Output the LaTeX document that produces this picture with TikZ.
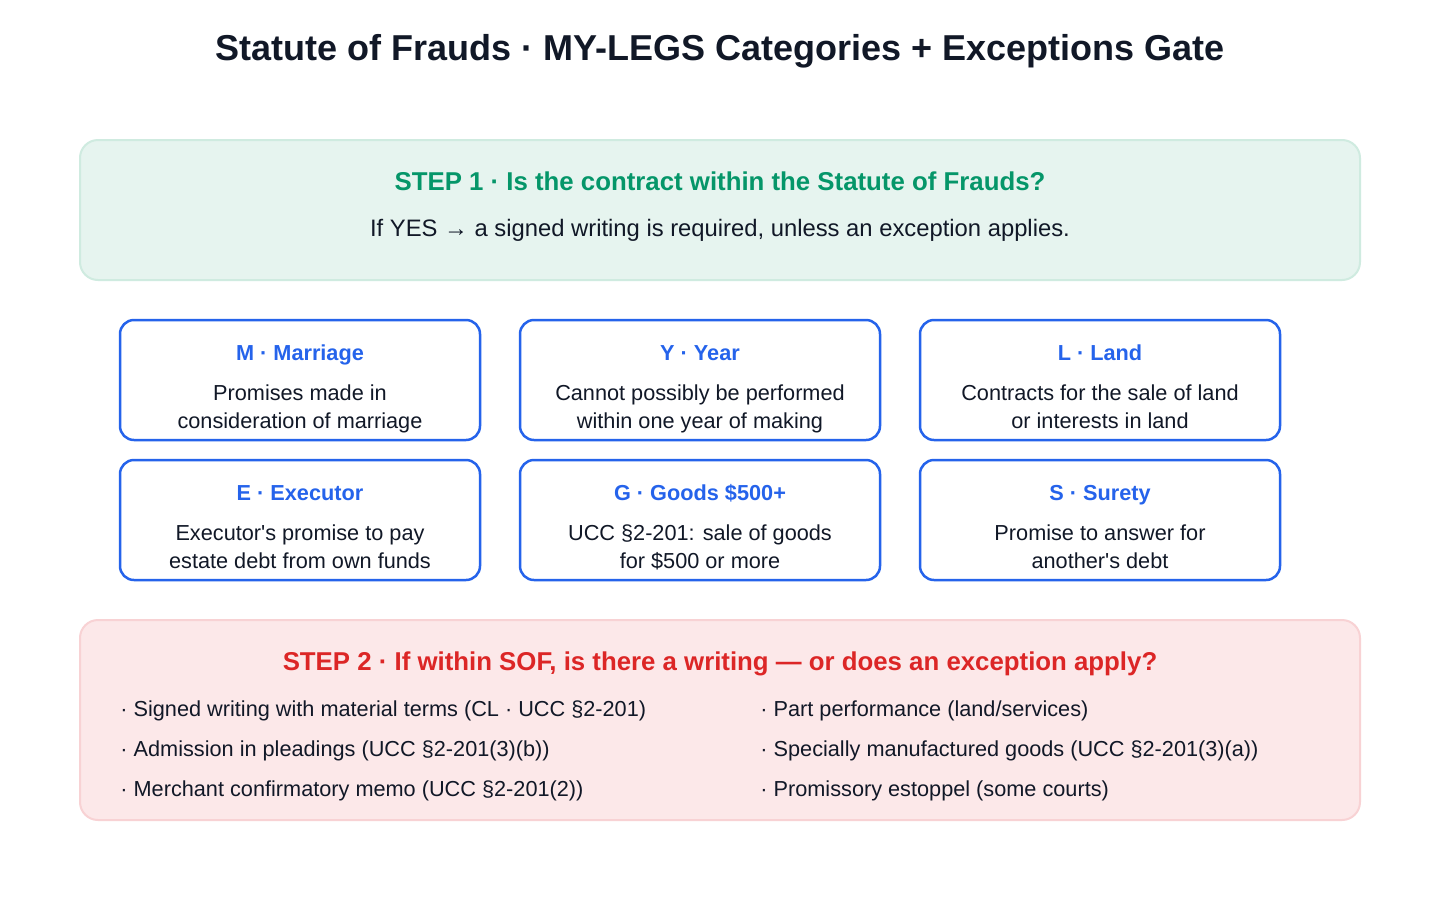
\documentclass[tikz,border=0pt]{standalone}
\usepackage{fontspec}
\setmainfont{Liberation Sans}
\usepackage{tikz}
\definecolor{ink}{HTML}{111827}
\definecolor{stepgreen}{HTML}{059669}
\definecolor{greenfill}{HTML}{E6F4EF}
\definecolor{greenline}{HTML}{CFEBE0}
\definecolor{catblue}{HTML}{2563EB}
\definecolor{stepred}{HTML}{DC2626}
\definecolor{redfill}{HTML}{FCE8E9}
\definecolor{redline}{HTML}{F8D2D4}
% one category box: name, center x, top y, title, line 1, line 2
\newcommand{\catbox}[6]{%
  \node[catframe] (#1) at (#2,#3+60) {};
  \node[cattitle] (#1-title) at (#2,#3+40) {#4};
  \node[catbody] (#1-one) at (#2,#3+80) {#5};
  \node[catbody] (#1-two) at (#2,#3+108) {#6};
}

\begin{document}
\begin{tikzpicture}[x=0.5pt, y=-0.5pt,
    catframe/.style={draw=catblue, line width=1.25pt, fill=white, rounded corners=7pt,
      minimum width=180pt, minimum height=60pt, inner sep=0pt},
    cattitle/.style={anchor=base, text=catblue, font=\fontsize{10.85}{13}\selectfont\bfseries},
    catbody/.style={anchor=base, text=ink, font=\fontsize{10.85}{13}\selectfont},
    bullet/.style={anchor=base west, text=ink, font=\fontsize{10.85}{13}\selectfont, inner sep=0pt}]
        \useasboundingbox[fill=white] (0,0) rectangle (1440,900);

        % title
        \node[anchor=base, text=ink, font=\fontsize{18}{22}\selectfont\bfseries] (title) at (720,60)
            {Statute of Frauds · MY-LEGS Categories + Exceptions Gate};

        % step 1
        \node[draw=greenline, fill=greenfill, line width=1pt, rounded corners=9pt,
              minimum width=640pt, minimum height=70pt] (stepone) at (720,210) {};
        \node[anchor=base, text=stepgreen, font=\fontsize{12.9}{15}\selectfont\bfseries] (stepone-head) at (720,190)
            {STEP 1 · Is the contract within the Statute of Frauds?};
        \node[anchor=base, text=ink, font=\fontsize{11.9}{14}\selectfont] (stepone-text) at (720,236)
            {If YES → a signed writing is required, unless an exception applies.};

        % categories
        \catbox{marriage}{300}{320}{M · Marriage}{Promises made in}{consideration of marriage}
        \catbox{year}{700}{320}{Y · Year}{Cannot possibly be performed}{within one year of making}
        \catbox{land}{1100}{320}{L · Land}{Contracts for the sale of land}{or interests in land}
        \catbox{executor}{300}{460}{E · Executor}{Executor\textquotesingle s promise to pay}{estate debt from own funds}
        \catbox{goods}{700}{460}{G · Goods \$500+}{UCC §2-201: sale of goods}{for \$500 or more}
        \catbox{surety}{1100}{460}{S · Surety}{Promise to answer for}{another\textquotesingle s debt}

        % step 2
        \node[draw=redline, fill=redfill, line width=1pt, rounded corners=9pt,
              minimum width=640pt, minimum height=100pt] (steptwo) at (720,720) {};
        \node[anchor=base, text=stepred, font=\fontsize{12.9}{15}\selectfont\bfseries] (steptwo-head) at (720,670)
            {STEP 2 · If within SOF, is there a writing — or does an exception apply?};
        \node[bullet] (writing) at (120,716) {· Signed writing with material terms (CL · UCC §2-201)};
        \node[bullet] (pleadings) at (120,756) {· Admission in pleadings (UCC §2-201(3)(b))};
        \node[bullet] (memo) at (120,796) {· Merchant confirmatory memo (UCC §2-201(2))};
        \node[bullet] (partperf) at (760,716) {· Part performance (land/services)};
        \node[bullet] (special) at (760,756) {· Specially manufactured goods (UCC §2-201(3)(a))};
        \node[bullet] (estoppel) at (760,796) {· Promissory estoppel (some courts)};
\end{tikzpicture}
\end{document}
